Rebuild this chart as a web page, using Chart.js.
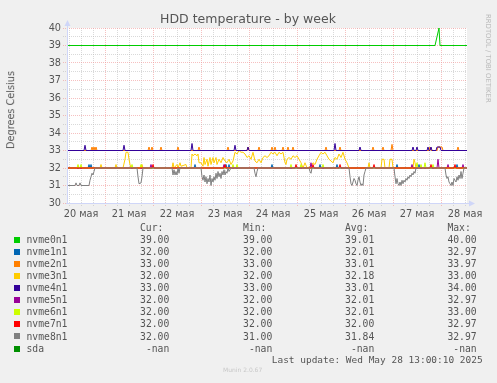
<!DOCTYPE html>
<html><head><meta charset="utf-8">
<script src="https://cdn.jsdelivr.net/npm/chart.js@4"></script>
<style>
html,body{margin:0;padding:0;background:#F0F0F0;}
#wrap{position:relative;width:497px;height:383px;overflow:hidden;background:#F0F0F0;}
canvas{position:absolute;left:0;top:0;}
.t{position:absolute;white-space:pre;line-height:1;color:#555;margin:0;}
.mono{font-family:"DejaVu Sans Mono",monospace;font-size:9.72px;}
.sans{font-family:"DejaVu Sans",sans-serif;}
.sq{position:absolute;width:6px;height:6px;}
</style></head><body>
<div id="wrap"><canvas id="c" width="497" height="383"></canvas></div>
<script>
// ---- data (x = hours since 20 May 00:00, y = degrees Celsius) ----
const xMin = 5, xMax = 205;
const dayLabels = ['20 мая','21 мая','22 мая','23 мая','24 мая','25 мая','26 мая','27 мая','28 мая'];
const yTickLabels = [30,31,32,33,34,35,36,37,38,39,40];
const seriesNames = ['nvme0n1','nvme1n1','nvme2n1','nvme3n1','nvme4n1','nvme5n1','nvme6n1','nvme7n1','nvme8n1','sda'];
const seriesColors = ['#00CC00','#0066B3','#FF8000','#FFCC00','#330099','#990099','#CCFF00','#FF0000','#808080','#008F00'];
const curValues = ['39.00','32.00','33.00','32.00','33.00','32.00','32.00','32.00','32.00','-nan'];
const minValues = ['39.00','32.00','33.00','32.00','33.00','32.00','32.00','32.00','31.00','-nan'];
const avgValues = ['39.01','32.01','33.01','32.18','33.01','32.01','32.01','32.00','31.84','-nan'];
const maxValues = ['40.00','32.97','33.97','33.00','34.00','32.97','33.00','32.97','32.97','-nan'];

const nvme0n1 = [[5,39],[189,39],[190,39.5],[191,40],[191.5,39],[205,39]];
const nvme1n1 = [[5,32],[15.5,32],[16,32.2],[16.5,32],[17,32.2],[17.5,32],[68.5,32],[69,32.2],[69.5,32],[84,32],[84.5,32.2],[85,32],[85.5,32],[86,32.2],[86.5,32],[107,32],[107.5,32.2],[108,32],[131,32],[131.5,32.2],[132,32],[139.5,32],[140,32.2],[140.5,32],[169.5,32],[170,32.2],[170.5,32],[180.5,32],[181,32.2],[181.5,32],[199.5,32],[200,32.2],[200.5,32],[205,32]];
const nvme2n1 = [[5,33],[17,33],[17.5,33.2],[18,33],[18.5,33.2],[19,33],[19.5,33.2],[20,33],[45.5,33],[46,33.2],[46.5,33],[47,33],[47.5,33.2],[48,33],[51.5,33],[52,33.2],[52.5,33],[60,33],[60.5,33.2],[61,33],[70.5,33],[71,33.2],[71.5,33],[85,33],[85.5,33.2],[86,33],[95,33],[95.5,33.2],[96,33],[100.5,33],[101,33.2],[101.5,33],[107,33],[107.5,33.2],[108,33],[108.5,33],[109,33.2],[109.5,33],[112.5,33],[113,33.2],[113.5,33],[115,33],[115.5,33.2],[116,33],[117.5,33],[118,33.2],[118.5,33],[134,33],[134.5,33.2],[135,33],[141,33],[141.5,33.2],[142,33],[157.5,33],[158,33.2],[158.5,33],[162.5,33],[163,33.2],[163.5,33],[167,33],[167.5,33.35],[168,33],[186,33],[186.5,33.2],[187,33],[190,33],[190.5,33.2],[192.5,33.2],[193,33],[200,33],[200.5,33.2],[201,33],[205,33]];
const nvme3n1 = [[5,32],[21.5,32],[22,32.2],[22.5,32],[29,32],[29.5,32.2],[30,32],[33,32],[34,32.5],[34.5,32.9],[35.5,32.9],[36,32.5],[36.5,32.2],[37,32],[42,32],[42.5,32.2],[43,32],[57.5,32],[58,32.3],[58.5,32],[60,32.2],[60.5,32],[61.5,32.3],[62,32.1],[64.5,32.2],[65,32],[67,32],[67.5,32.8],[68,32.7],[69,32.8],[70,32.7],[70.5,32.8],[71,32.3],[72,32.3],[73,32.1],[73.5,32.6],[74,32.2],[75,32.5],[75.5,32.1],[76.5,32.6],[77,32.2],[78,32.6],[78.5,32.3],[79.5,32.6],[80,32.2],[81,32.5],[82,32.3],[83,32.6],[84,32.4],[85,32.3],[86,32.5],[87,32.2],[88,32.4],[89,32.9],[90,32.8],[91,33.0],[92,32.9],[93,32.9],[94,32.8],[95,32.6],[96,32.7],[97,32.5],[98,32.9],[99,32.4],[100,32.3],[101,32.5],[102,32.3],[103,32.6],[104,32.7],[105,32.6],[106,32.7],[107,32.9],[108,32.8],[109,32.9],[110,32.7],[111,32.9],[112,32.8],[113,32.9],[114,32.3],[114.5,32.2],[115,32.5],[116,32.6],[117,32.5],[118,32.7],[119,32.6],[120,32.7],[121,32.5],[122,32.3],[123,32.0],[124,32.3],[125,32.0],[127,32.1],[128,32.3],[129,32.2],[130,32.5],[131,32.7],[132,32.9],[133,32.8],[134,32.9],[135,32.7],[136,32.5],[137,32.4],[138,32.3],[139,32.6],[140,32.5],[141,32.8],[142,32.6],[143,32.9],[144,32.5],[145,32.3],[146,32],[155.5,32],[156,32.3],[156.5,32],[162,32],[162.5,32.5],[163.5,32.5],[164,32],[166,32],[166.5,32.5],[167.5,32.5],[168,32],[178,32],[178.5,32.5],[179,32.3],[179.5,32],[205,32]];
const nvme4n1 = [[5,33],[13.5,33],[14,33.3],[14.5,33],[33,33],[33.5,33.3],[34,33],[67,33],[67.5,33.4],[68,33],[88.5,33],[89,33.3],[89.5,33],[95,33],[95.5,33.2],[96,33],[138.5,33],[139,33.4],[139.5,33],[151,33],[151.5,33.2],[152,33],[177.5,33],[178,33.2],[178.5,33],[179.5,33],[180,33.2],[180.5,33],[185,33],[185.5,33.2],[186,33],[186.5,33],[187,33.2],[187.5,33],[189.5,33],[190,33.2],[191.5,33.2],[192,33],[205,33]];
const nvme5n1 = [[5,32],[46.5,32],[47,32.2],[47.5,32],[83,32],[83.5,32.2],[84,32],[126.5,32],[127,32.3],[127.5,32],[177,32],[177.5,32.2],[178,32],[190,32],[190.5,32.5],[191,32],[195,32],[195.5,32.2],[196,32],[202.5,32],[203,32.2],[203.5,32],[205,32]];
const nvme6n1 = [[5,32],[10,32],[10.5,32.2],[11,32],[11.5,32],[12,32.2],[12.5,32],[37,32],[37.5,32.2],[38,32],[41.5,32],[42,32.2],[42.5,32],[87.5,32],[88,32.2],[88.5,32],[89.5,32],[90,32.2],[90.5,32],[116.5,32],[117,32.2],[117.5,32],[121.5,32],[122,32.2],[122.5,32],[132.5,32],[133,32.2],[133.5,32],[179.5,32],[180,32.3],[180.5,32],[181.5,32],[182,32.2],[182.5,32],[183.5,32],[184,32.3],[184.5,32],[187.5,32],[188,32.2],[188.5,32],[205,32]];
const nvme7n1 = [[5,32],[47.5,32],[48,32.2],[48.5,32],[83.5,32],[84,32.2],[84.5,32],[119,32],[119.5,32.2],[120,32],[127.5,32],[128,32.2],[128.5,32],[141,32],[141.5,32.2],[142,32],[158,32],[158.5,32.2],[159,32],[186.5,32],[187,32.2],[187.5,32],[198.5,32],[199,32.2],[199.5,32],[205,32]];
const nvme8n1 = [[5,31],[9,31],[9.5,31.15],[10,31],[11,31],[11.5,31.15],[12,31],[16,31],[16.5,31.3],[17,31.5],[17.5,31.7],[18,31.6],[18.5,31.8],[19,32],[40,32],[40.5,31.5],[41,31.1],[42,31.15],[42.5,31.5],[43,32],[57.5,32],[58,31.6],[58.5,31.9],[59,31.6],[59.5,31.8],[60,31.6],[60.5,32],[61,31.7],[61.5,32],[72,32],[72.5,31.5],[73,31.3],[73.5,31.6],[74,31.2],[74.5,31.5],[75,31.1],[75.5,31.4],[76,31.2],[76.5,31.6],[77,31.0],[77.5,31.4],[78,31.2],[78.5,31.5],[79,31.3],[79.5,31.7],[80,31.4],[80.5,31.8],[81,31.5],[81.5,31.7],[82,31.4],[82.5,31.8],[83,31.6],[83.5,31.9],[84,31.6],[84.5,31.8],[85,31.7],[85.5,32],[86,31.8],[87,32],[98.5,32],[99,31.7],[99.5,31.5],[100,31.8],[100.5,32],[126,32],[126.5,31.8],[127,31.7],[127.5,32],[146,32],[146.5,31.5],[147,31.1],[147.5,31.0],[148,31.2],[148.5,31.4],[149,31.3],[149.5,31.1],[150,31.0],[150.5,31.3],[151,31.5],[151.5,31.2],[152,31.0],[152.5,31.1],[153,31.0],[153.5,31.6],[154,31.8],[154.5,32],[168.5,32],[169,31.5],[169.5,31.1],[170,31.4],[170.5,31.1],[171,31.0],[171.5,31.2],[172,31.0],[172.5,31.3],[173,31.1],[173.5,31.3],[174,31.2],[174.5,31.4],[175,31.3],[175.5,31.5],[176,31.4],[176.5,31.6],[177,31.5],[177.5,31.7],[178,31.6],[178.5,31.8],[179,31.7],[179.5,32],[194,32],[194.5,31.6],[195,31.4],[195.5,31.5],[196,31.2],[196.5,31.1],[197,31.0],[197.5,31.2],[198,31.0],[198.5,31.4],[199,31.3],[199.5,31.2],[200,31.5],[200.5,31.3],[201,31.6],[201.5,31.4],[202,31.8],[202.5,31.4],[203,31.7],[203.5,32],[205,32]];
const sda = [];

const seriesData = [nvme0n1,nvme1n1,nvme2n1,nvme3n1,nvme4n1,nvme5n1,nvme6n1,nvme7n1,nvme8n1,sda];

// ---- styles ----
const TEXT = '#555555';
const AXIS = '#CFD6F8';
const MAJOR = 'rgba(240,150,150,0.6)';
const MINOR = 'rgba(185,185,185,0.55)';

const gridHours = [];
for (let h = Math.ceil(xMin/6)*6; h < xMax; h += 6) gridHours.push(h);
const yGrid = [];
yTickLabels.forEach((v,i)=>{ yGrid.push(v); if (i < yTickLabels.length-1) yGrid.push(v+0.5); });

const datasets = seriesNames.map((n,i)=>({
  label:n,
  data: seriesData[i].map(p=>({x:p[0],y:p[1]})),
  borderColor: seriesColors[i], backgroundColor: seriesColors[i],
  borderWidth:1, pointRadius:0, tension:0, fill:false,
  order: seriesNames.length - i, clip: 3
}));

const bgPlugin = {id:'bg', beforeDraw(c){
  const ctx=c.ctx, a=c.chartArea; ctx.save();
  ctx.fillStyle='#F0F0F0'; ctx.fillRect(0,0,c.width,c.height);
  ctx.fillStyle='#FFFFFF'; ctx.fillRect(a.left,a.top,a.right-a.left,a.bottom-a.top);
  ctx.restore();
}};
const axisPlugin = {id:'axes', afterDraw(c){
  const ctx=c.ctx, a=c.chartArea; ctx.save();
  ctx.strokeStyle=AXIS; ctx.fillStyle=AXIS; ctx.lineWidth=1;
  const xl = Math.round(a.left)+0.5, yb = Math.round(a.bottom)+0.5;
  ctx.beginPath(); ctx.moveTo(xl, a.bottom+1); ctx.lineTo(xl, a.top-3); ctx.stroke();
  ctx.beginPath(); ctx.moveTo(a.left-1, yb); ctx.lineTo(a.right+3, yb); ctx.stroke();
  ctx.beginPath(); ctx.moveTo(xl-3, a.top-2); ctx.lineTo(xl+3, a.top-2); ctx.lineTo(xl, a.top-8); ctx.closePath(); ctx.fill();
  ctx.beginPath(); ctx.moveTo(a.right+2, yb-3); ctx.lineTo(a.right+2, yb+3); ctx.lineTo(a.right+8, yb); ctx.closePath(); ctx.fill();
  ctx.restore();
}};

const tickFont = {family:'DejaVu Sans', size:9.72};
new Chart(document.getElementById('c'), {
  type:'line',
  data:{datasets},
  options:{
    responsive:false, animation:false, events:[],
    layout:{padding:{left:0,top:28,right:30,bottom:160}},
    plugins:{legend:{display:false},title:{display:false},tooltip:{enabled:false}},
    scales:{
      x:{type:'linear', min:xMin, max:xMax,
        afterBuildTicks:(s)=>{ s.ticks = gridHours.map(v=>({value:v})); },
        afterFit:(s)=>{ s.height = 20; },
        border:{display:false, dash:[1,1]},
        grid:{color:(c)=> (c.tick && c.tick.value%24===0) ? MAJOR : MINOR, tickLength:3, tickBorderDash:[1,1]},
        ticks:{autoSkip:false, maxRotation:0, padding:3, color:TEXT, font:tickFont,
          callback:(v)=> (v%24===12) ? dayLabels[(v-12)/24] : ''}
      },
      y:{type:'linear', min:30, max:40,
        afterBuildTicks:(s)=>{ s.ticks = yGrid.map(v=>({value:v})); },
        afterFit:(s)=>{ s.width = 67; },
        border:{display:false, dash:[1,1]},
        grid:{color:(c)=> (c.tick && Number.isInteger(c.tick.value)) ? MAJOR : MINOR, tickLength:4, tickBorderDash:[1,1]},
        ticks:{autoSkip:false, padding:2, color:TEXT, font:tickFont,
          callback:(v)=> Number.isInteger(v) ? String(v) : ''}
      }
    }
  },
  plugins:[bgPlugin, axisPlugin]
});

// ---- text overlays ----
const wrap = document.getElementById('wrap');
function addText(txt, cls, css){ const d=document.createElement('div'); d.className='t '+cls; d.textContent=txt; Object.assign(d.style, css); wrap.appendChild(d); return d; }

addText('HDD temperature - by week','sans',{fontSize:'12.5px',left:'248px',top:'13.4px',transform:'translateX(-50%)'});
addText('Degrees Celsius','sans',{fontSize:'9.72px',left:'11px',top:'110px',transform:'translate(-50%,-50%) rotate(-90deg)'});
addText('RRDTOOL / TOBI OETIKER','sans',{fontSize:'6.9px',left:'0px',top:'0px',color:'#BBBBBB',transformOrigin:'0 0',transform:'translate(491px,14px) rotate(90deg)'});

const colRight = [169.3, 272.3, 374.3, 476.7];
const colHead = ['Cur:','Min:','Avg:','Max:'];
const colVals = [curValues, minValues, avgValues, maxValues];
const asc = 0.846*9.72;
colHead.forEach((h,j)=> addText(h,'mono',{left:(colRight[j]-29.3)+'px',top:(231-asc)+'px'}));
seriesNames.forEach((n,i)=>{
  const base = 243.3 + i*12.06;
  const sq = document.createElement('div'); sq.className='sq';
  Object.assign(sq.style,{left:'14px',top:(base-6.3)+'px',background:seriesColors[i]}); wrap.appendChild(sq);
  addText(n,'mono',{left:'26.5px',top:(base-asc)+'px'});
  colVals.forEach((arr,j)=> addText(arr[i],'mono',{left:colRight[j]+'px',top:(base-asc)+'px',transform:'translateX(-100%)'}));
});
addText('Last update: Wed May 28 13:00:10 2025','mono',{fontSize:'9.47px',left:'482.7px',top:(362.8-0.846*9.47)+'px',transform:'translateX(-100%)'});
addText('Munin 2.0.67','sans',{fontSize:'6px',left:'223px',top:(372-0.846*6)+'px',color:'#C8C8C8'});
</script>
</body></html>
